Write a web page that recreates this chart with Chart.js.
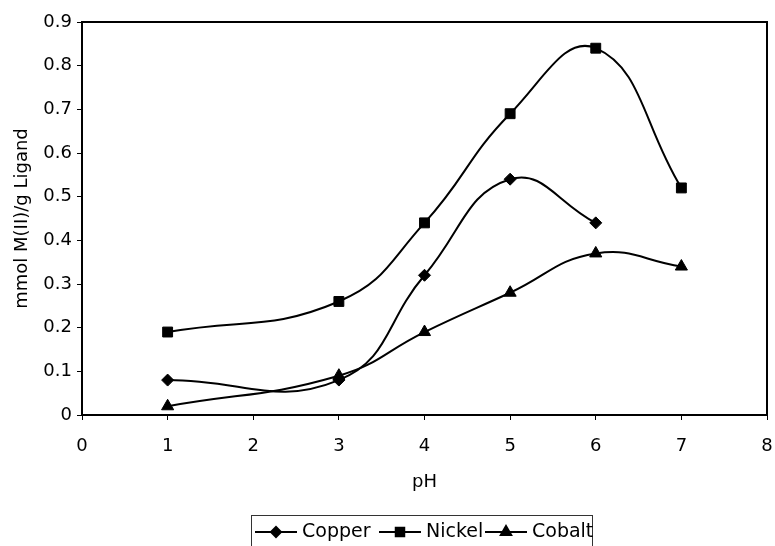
<!DOCTYPE html>
<html>
<head>
<meta charset="utf-8">
<script src="https://cdn.jsdelivr.net/npm/chart.js@4.4.1/dist/chart.umd.min.js"></script>
<style>
  html, body { margin: 0; padding: 0; background: #fff; }
  #wrap { width: 775px; height: 546px; position: relative; }
</style>
</head>
<body>
<div id="wrap"><canvas id="chart"></canvas></div>
<script>
// pH values and uptake (mmol M(II) per g ligand) per metal
const phCopper = [1, 3, 4, 5, 6];
const copper   = [0.08, 0.08, 0.32, 0.54, 0.44];
const phNickel = [1, 3, 4, 5, 6, 7];
const nickel   = [0.19, 0.26, 0.44, 0.69, 0.84, 0.52];
const phCobalt = [1, 3, 4, 5, 6, 7];
const cobalt   = [0.02, 0.09, 0.19, 0.28, 0.37, 0.34];

const FONT = 'DejaVu Sans, Arial, sans-serif';
const TEXT = { family: FONT, size: 18 };

function toPoints(xs, ys) {
    return xs.map((x, i) => ({ x: x, y: ys[i] }));
}

function series(label, xs, ys, style, radius) {
    return {
        label: label,
        data: toPoints(xs, ys),
        borderColor: '#000',
        backgroundColor: '#000',
        borderWidth: 2,
        pointStyle: style,
        pointRadius: radius,
        pointHoverRadius: radius,
        pointBorderWidth: 1,
        tension: 0.45,
        fill: false
    };
}

// top/right frame plus the boxed legend under the axis title
const legendX = [255, 379, 485];
const framePlugin = {
    id: 'frame',
    afterDraw(chart) {
        const { ctx, chartArea: a } = chart;
        ctx.save();
        ctx.strokeStyle = '#000';
        ctx.lineWidth = 2;
        ctx.beginPath();
        ctx.moveTo(a.left, a.top);
        ctx.lineTo(a.right, a.top);
        ctx.lineTo(a.right, a.bottom);
        ctx.stroke();

        // legend box
        ctx.lineWidth = 1;
        ctx.strokeStyle = '#333';
        ctx.strokeRect(251.5, 515.5, 341, 60);

        ctx.font = '19px ' + FONT;
        ctx.textBaseline = 'middle';
        const y = 532;
        chart.data.datasets.forEach((ds, i) => {
            const x = legendX[i];
            ctx.strokeStyle = '#000';
            ctx.lineWidth = 2;
            ctx.beginPath();
            ctx.moveTo(x, y);
            ctx.lineTo(x + 42, y);
            ctx.stroke();
            ctx.fillStyle = '#000';
            Chart.helpers.drawPoint(ctx, {
                pointStyle: ds.pointStyle,
                radius: ds.pointRadius - 1,
                borderWidth: 1
            }, x + 21, y);
            ctx.fillText(ds.label, x + 47, y);
        });
        ctx.restore();
    }
};

new Chart(document.getElementById('chart'), {
    type: 'line',
    data: {
        datasets: [
            series('Copper', phCopper, copper, 'rectRot', 6),
            series('Nickel', phNickel, nickel, 'rect', 7),
            series('Cobalt', phCobalt, cobalt, 'triangle', 7)
        ]
    },
    options: {
        responsive: true,
        maintainAspectRatio: false,
        animation: false,
        layout: { padding: { top: 22, right: 1, bottom: 51, left: 0 } },
        plugins: {
            legend: { display: false },
            tooltip: { enabled: false }
        },
        scales: {
            x: {
                type: 'linear',
                min: 0,
                max: 8,
                afterFit(scale) {
                    scale.height = 80;
                    scale.paddingRight = 0;
                    scale.paddingLeft = 0;
                },
                ticks: {
                    stepSize: 1,
                    color: '#000',
                    padding: 16,
                    font: TEXT
                },
                grid: {
                    drawOnChartArea: false,
                    color: '#000',
                    tickLength: 5,
                    tickWidth: 1
                },
                border: { color: '#000', width: 2 },
                title: {
                    display: true,
                    text: 'pH',
                    color: '#000',
                    font: TEXT,
                    padding: { top: 0, bottom: 2 }
                }
            },
            y: {
                min: 0,
                max: 0.9,
                afterFit(scale) { scale.width = 82; },
                ticks: {
                    stepSize: 0.1,
                    color: '#000',
                    padding: 5,
                    font: TEXT,
                    callback: v => (v === 0 ? '0' : v.toFixed(1))
                },
                grid: {
                    drawOnChartArea: false,
                    color: '#000',
                    tickLength: 5,
                    tickWidth: 1
                },
                border: { color: '#000', width: 2 },
                title: {
                    display: true,
                    text: 'mmol M(II)/g Ligand',
                    color: '#000',
                    font: TEXT,
                    padding: { top: 12, bottom: 0 }
                }
            }
        }
    },
    plugins: [framePlugin]
});
</script>
</body>
</html>
